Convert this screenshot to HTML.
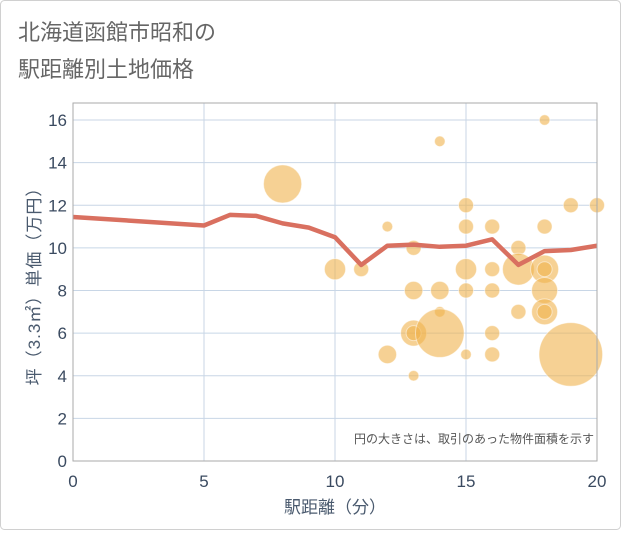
<!DOCTYPE html>
<html><head><meta charset="utf-8">
<style>
body{margin:0;background:#fff;}
svg text{font-family:"Liberation Sans","Noto Sans CJK JP",sans-serif;}
</style></head>
<body>
<svg id="chart" width="621" height="530" xmlns="http://www.w3.org/2000/svg">
<rect x="0.5" y="0.5" width="620" height="529" rx="4" fill="#fff" stroke="#d0d0d0"/>
<text x="18" y="40" font-size="22" fill="#666">北海道函館市昭和の</text>
<text x="18" y="77" font-size="22" fill="#666">駅距離別土地価格</text>
<g id="grid"></g>
<g id="bubbles"></g>
<g id="line"></g>
<g id="axes"></g>
<text x="594" y="443" font-size="12" fill="#555" text-anchor="end">円の大きさは、取引のあった物件面積を示す</text>
<text x="335" y="513" font-size="17" fill="#4a5a6e" text-anchor="middle">駅距離（分）</text>
<text transform="translate(40,282) rotate(-90)" font-size="17" fill="#4a5a6e" text-anchor="middle" letter-spacing="1">坪（3.3㎡）単価（万円）</text>
</svg>
<script>
const xTicks=[0,5,10,15,20];
const yTicks=[0,2,4,6,8,10,12,14,16];
const bubbleX=[8,14,18,15,19,20,12,15,16,18,13,17,10,11,15,16,17,18,18,13,14,15,16,18,14,17,18,18,13,13,14,16,12,15,16,19,13];
const bubbleY=[13,15,16,12,12,12,11,11,11,11,10,10,9,9,9,9,9,9,9,8,8,8,8,8,7,7,7,7,6,6,6,6,5,5,5,5,4];
const bubbleSize=[13,1,1,2,2,2,1,2,2,2,2,2,4,2,4,2,9,7,2,3,3,2,2,6,1,2,6,2,6,2,21,2,3,1,2,36,1];
const lineX=[0,5,6,7,8,9,10,11,12,13,14,15,16,17,18,19,20];
const lineY=[11.45,11.05,11.55,11.5,11.15,10.95,10.5,9.2,10.1,10.15,10.05,10.1,10.4,9.2,9.85,9.9,10.1];
const X0=73,X1=597,Y0=461,Y1=120,TOP=103;
const sx=v=>X0+(X1-X0)*v/20;
const sy=v=>Y0-(Y0-Y1)*v/16;
const NS="http://www.w3.org/2000/svg";
function mk(tag,attrs,parent){const e=document.createElementNS(NS,tag);for(const k in attrs)e.setAttribute(k,attrs[k]);parent.appendChild(e);return e;}
const grid=document.getElementById('grid'),axes=document.getElementById('axes');
xTicks.forEach(t=>{
  const l=mk('line',{x1:sx(t),x2:sx(t),y1:TOP,y2:Y0,stroke:'#c8d6e6','stroke-width':1},grid);
  
  
  const tx=mk('text',{x:sx(t),y:Y0+26,'font-size':17,fill:'#3a4a60','text-anchor':'middle'},axes);
  tx.textContent=t;
  
  
});
yTicks.forEach(t=>{
  const l=mk('line',{x1:X0,x2:X1,y1:sy(t),y2:sy(t),stroke:'#c8d6e6','stroke-width':1},grid);
  
  
  const tx=mk('text',{x:X0-6,y:sy(t)+6,'font-size':17,fill:'#3a4a60','text-anchor':'end'},axes);
  tx.textContent=t;
  
  
});
const frame=mk('rect',{x:X0,y:TOP,width:X1-X0,height:Y0-TOP,fill:'none',stroke:'#aaa','stroke-width':1},axes);


const bg=document.getElementById('bubbles');
bubbleX.forEach((x,i)=>{
  const c=mk('circle',{cx:sx(x),cy:sy(bubbleY[i]),r:5.3*Math.sqrt(bubbleSize[i]),fill:'rgba(240,178,76,0.6)',stroke:'rgba(255,255,255,0.5)','stroke-width':1},bg);
  
  
});
const lg=document.getElementById('line');
const p=mk('polyline',{points:lineX.map((x,i)=>sx(x)+','+sy(lineY[i])).join(' '),fill:'none',stroke:'#d97060','stroke-width':4.5,'stroke-linejoin':'round'},lg);


</script>
</body></html>
